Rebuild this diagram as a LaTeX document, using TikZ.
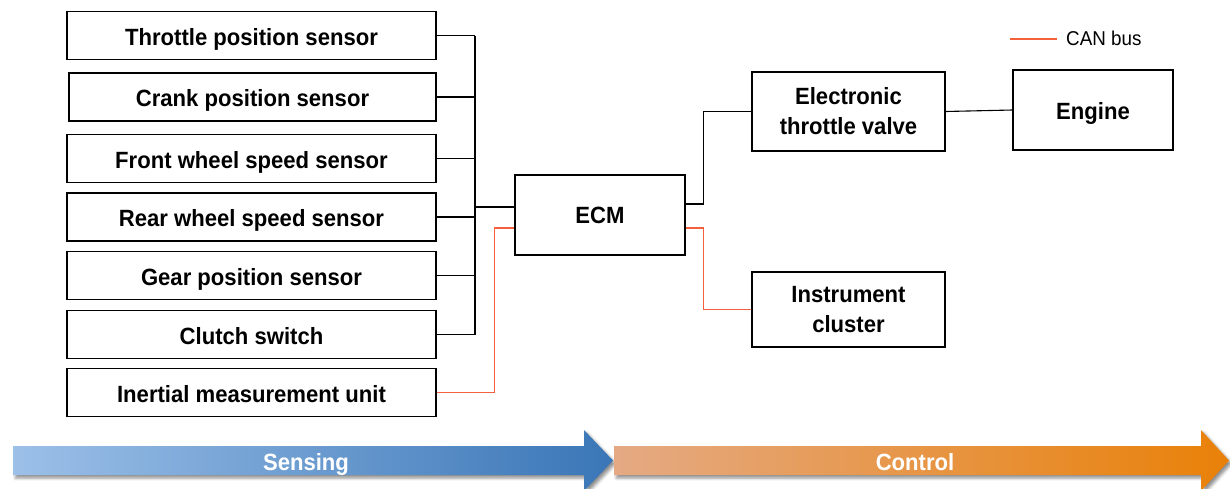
\documentclass[tikz,border=0pt]{standalone}
\usepackage{fontspec}
\setmainfont{Liberation Sans}[FakeStretch=0.94]
\usetikzlibrary{shadows.blur}
\definecolor{canred}{HTML}{F4603C}
\definecolor{blueL}{HTML}{9CC0E8}
\definecolor{blueD}{HTML}{3A76B7}
\definecolor{orgL}{HTML}{E5AA84}
\definecolor{orgD}{HTML}{E98108}
\begin{document}
\begin{tikzpicture}[x=1pt,y=-1pt,
  box/.style={draw=black, line width=1.2pt, fill=white, align=center, inner sep=0pt,
    font=\bfseries\fontsize{23.5}{30}\selectfont},
  lbox/.style={box, minimum width=369pt, minimum height=48pt, text height=19pt, text depth=0pt},
  wire/.style={line width=1.1pt, black},
  can/.style={line width=1.3pt, canred},
  bigarrow/.style={blur shadow={shadow xshift=2.5pt, shadow yshift=-3pt, shadow opacity=45, shadow blur radius=3pt}},
  arrlbl/.style={text=white, anchor=base, inner sep=0pt, font=\bfseries\fontsize{23.5}{27}\selectfont}
]
\useasboundingbox (0,0) rectangle (1230,488);

% left sensors
\node[lbox] (tps) at (251.5,35.5) {Throttle position sensor};
\node[lbox, minimum width=367pt] (cps) at (252.5,97) {Crank position sensor};
\node[lbox] (fws) at (251.5,158.5) {Front wheel speed sensor};
\node[lbox] (rws) at (251.5,217) {Rear wheel speed sensor};
\node[lbox] (gps) at (251.5,275.5) {Gear position sensor};
\node[lbox] (cls) at (251.5,334.5) {Clutch switch};
\node[lbox] (imu) at (251.5,392.5) {Inertial measurement unit};

% ECM and outputs
\node[box, minimum width=170pt, minimum height=80pt] (ecm) at (600,215) {ECM};
\node[box, minimum width=193pt, minimum height=79pt] (etv) at (848.5,111.5) {Electronic\\throttle valve};
\node[box, minimum width=160pt, minimum height=80pt, text height=19pt, text depth=0pt] (eng) at (1093,110) {Engine};
\node[box, minimum width=193pt, minimum height=75pt] (ic) at (848.5,309.5) {Instrument\\cluster};

% sensor bus
\coordinate (bus) at (475,207);
\foreach \n in {tps,cps,fws,rws,gps,cls} \draw[wire] (\n.east) -- (\n.east -| bus);
\draw[wire] (tps.east -| bus) -- (cls.east -| bus);
\draw[wire] (bus) -- (bus -| ecm.west);
\draw[can] (imu.east) -| ([xshift=-20pt,yshift=-13pt]ecm.west) -- ([yshift=-13pt]ecm.west);

% outputs
\draw[wire] ([yshift=11pt]ecm.east) -| ([xshift=-48pt]etv.west) -- (etv.west);
\draw[can] ([yshift=-13pt]ecm.east) -| ([xshift=-48pt]ic.west) -- (ic.west);
\draw[wire] (etv.east) -- (eng.west);

% legend
\coordinate (leg1) at (1010,39);
\coordinate (leg2) at (1057,39);
\draw[can] (leg1) -- (leg2);
\node[anchor=west, inner sep=0pt, font=\fontsize{20}{24}\selectfont] (canlbl) at (1066,38) {CAN bus};

% process arrows
\path[bigarrow, left color=blueL, right color=blueD]
  (13,446) -- (584,446) -- (584,430) -- (613,460.5) -- (584,491) -- (584,475) -- (13,475) -- cycle;
\path[bigarrow, left color=orgL, right color=orgD]
  (614,446) -- (1201,446) -- (1201,430) -- (1229,460.5) -- (1201,491) -- (1201,475) -- (614,475) -- cycle;
\node[arrlbl] (sens) at (306,470) {Sensing};
\node[arrlbl] (ctrl) at (915,470) {Control};
\end{tikzpicture}
\end{document}
